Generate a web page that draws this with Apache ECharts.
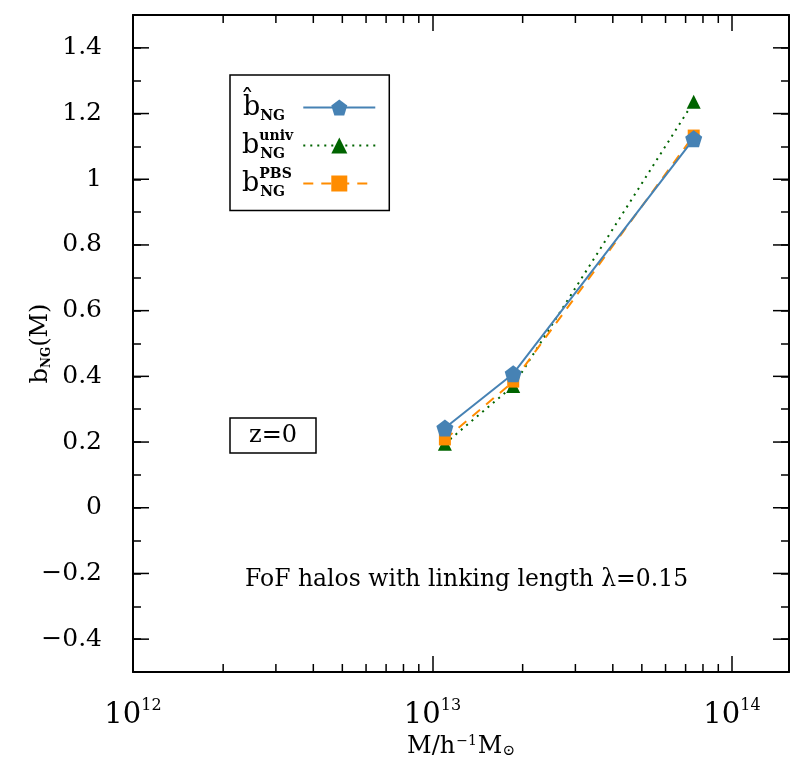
<!DOCTYPE html>
<html>
<head>
<meta charset="utf-8">
<script src="https://cdn.jsdelivr.net/npm/echarts@6/dist/echarts.min.js"></script>
<style>
    html, body { margin: 0; padding: 0; background: #fff; }
    #main { width: 804px; height: 767px; }
</style>
</head>
<body>
<div id="main"></div>
<script>
    // halo mass bins (h^-1 Msun)
    var mass = [1.10e13, 1.86e13, 7.45e13];
    // measured and predicted non-gaussian bias
    var bHat = [0.243, 0.408, 1.123];
    var bUniv = [0.195, 0.371, 1.236];
    var bPBS = [0.208, 0.384, 1.133];

    var yMajorTicks = [-0.4, -0.2, 0, 0.2, 0.4, 0.6, 0.8, 1.0, 1.2, 1.4];
    var xMinorTicks = [2e12, 3e12, 4e12, 5e12, 6e12, 7e12, 8e12, 9e12,
                       2e13, 3e13, 4e13, 5e13, 6e13, 7e13, 8e13, 9e13];

    var font = 'DejaVu Serif';
    var black = '#000';

    function pairs(xs, ys) {
        return xs.map(function (x, i) { return [x, ys[i]]; });
    }

    var myChart = echarts.init(document.getElementById('main'));

    var xAxisBase = {
        type: 'log',
        logBase: 10,
        min: 1e12,
        max: 1.55e14,
        axisLine: { onZero: false, lineStyle: { color: black, width: 2 } },
        axisTick: { inside: true, length: 16, lineStyle: { color: black, width: 1.5 } },
        splitLine: { show: false }
    };
    var yAxisBase = {
        type: 'value',
        min: -0.5,
        max: 1.5,
        interval: 0.1,
        axisLine: { show: true, onZero: false, lineStyle: { color: black, width: 2 } },
        axisTick: { show: true, inside: true, length: 8, lineStyle: { color: black, width: 1.5 } },
        splitLine: { show: false }
    };

    option = {
        animation: false,
        backgroundColor: '#fff',
        grid: { left: 133, right: 15, top: 15, bottom: 95 },
        title: [{
            text: 'z=0',
            left: 230, top: 418,
            padding: [6, 19, 5, 19],
            borderColor: black, borderWidth: 1.5,
            textStyle: { fontFamily: font, fontSize: 24, fontWeight: 'normal', color: black }
        }, {
            text: 'FoF halos with linking length λ=0.15',
            left: 245, top: 568,
            padding: 0,
            textStyle: { fontFamily: font, fontSize: 23.5, fontWeight: 'normal', color: black }
        }],
        legend: {
            data: ['hat', 'univ', 'pbs'],
            orient: 'vertical',
            left: 230, top: 75,
            align: 'right',
            backgroundColor: '#fff',
            borderColor: black, borderWidth: 1.5, borderRadius: 0,
            padding: [19, 13, 11, 12],
            itemGap: 6,
            itemWidth: 72,
            itemHeight: 20,
            formatter: function (name) {
                if (name === 'hat') return '{b|b\u0302}{sub|NG}';
                if (name === 'univ') return '{b|b}{sup|univ}{sub|NG}';
                return '{b|b}{sup|PBS}{sub|NG}';
            },
            textStyle: {
                color: black,
                fontFamily: font,
                rich: {
                    b: { fontFamily: font, fontSize: 27, lineHeight: 32, align: 'left', color: black },
                    sup: { fontFamily: font, fontSize: 14, fontWeight: 'bold', verticalAlign: 'top', align: 'left', width: 1, color: black },
                    sub: { fontFamily: font, fontSize: 14, fontWeight: 'bold', verticalAlign: 'bottom', align: 'left', width: 38, color: black }
                }
            }
        },
        xAxis: [Object.assign({}, xAxisBase, {
            position: 'bottom',
            name: '{n|M/h}{sup|−1}{n|M}{sub|⊙}',
            nameLocation: 'middle',
            nameGap: 60,
            nameTextStyle: {
                rich: {
                    n: { fontFamily: font, fontSize: 24, color: black },
                    sup: { fontFamily: font, fontSize: 14, verticalAlign: 'top', color: black, padding: [0, 1, 0, 1] },
                    sub: { fontFamily: font, fontSize: 15, verticalAlign: 'bottom', color: black }
                }
            },
            axisLabel: {
                margin: 26,
                showMaxLabel: false,
                formatter: function (v) {
                    return '{b|10}{s|' + Math.round(Math.log10(v)) + '}';
                },
                rich: {
                    b: { fontFamily: font, fontSize: 29, lineHeight: 34, color: black },
                    s: { fontFamily: font, fontSize: 16, verticalAlign: 'top', color: black }
                }
            }
        }), Object.assign({}, xAxisBase, {
            position: 'top',
            axisLabel: { show: false }
        })],
        yAxis: [Object.assign({}, yAxisBase, {
            position: 'left',
            name: '{b|b}{sub|NG}{b|(M)}',
            nameLocation: 'middle',
            nameGap: 80,
            nameMoveOverlap: false,
            nameTextStyle: {
                rich: {
                    b: { fontFamily: font, fontSize: 24, color: black },
                    sub: { fontFamily: font, fontSize: 12, fontWeight: 'bold', verticalAlign: 'bottom', color: black }
                }
            },
            axisLabel: {
                margin: 31,
                fontFamily: font,
                fontSize: 25,
                color: black,
                formatter: function (v) {
                    var r = Math.round(v * 10);
                    if (r % 2 !== 0) return '';
                    return String(r / 10).replace('-', '\u2212');
                }
            }
        }), Object.assign({}, yAxisBase, {
            position: 'right',
            axisLabel: { show: false }
        })],
        tooltip: { show: false },
        series: [{
            name: 'hat',
            type: 'line',
            z: 5,
            data: pairs(mass, bHat),
            symbol: 'path://M0,-10 L9.51,-3.09 L5.88,8.09 L-5.88,8.09 L-9.51,-3.09 Z',
            symbolSize: 17,
            itemStyle: { color: '#4682B4' },
            lineStyle: { color: '#4682B4', width: 2, type: 'solid' }
        }, {
            name: 'univ',
            type: 'line',
            z: 3,
            data: pairs(mass, bUniv),
            symbol: 'triangle',
            symbolSize: 14,
            itemStyle: { color: '#006400' },
            lineStyle: { color: '#006400', width: 2, type: [2, 5] }
        }, {
            name: 'pbs',
            type: 'line',
            z: 4,
            data: pairs(mass, bPBS),
            symbol: 'rect',
            symbolSize: 12,
            itemStyle: { color: '#FF8C00' },
            lineStyle: { color: '#FF8C00', width: 2, type: [10, 8] }
        }, {
            // minor ticks of the log axis, bottom and top
            name: 'xminor',
            type: 'custom',
            silent: true,
            z: 10,
            data: xMinorTicks.map(function (v) { return [v, 0]; }),
            renderItem: function (params, api) {
                var cs = params.coordSys;
                var x = api.coord([api.value(0), 0])[0];
                var st = { stroke: black, lineWidth: 1.5 };
                return {
                    type: 'group',
                    children: [
                        { type: 'line', shape: { x1: x, y1: cs.y + cs.height, x2: x, y2: cs.y + cs.height - 8 }, style: st },
                        { type: 'line', shape: { x1: x, y1: cs.y, x2: x, y2: cs.y + 8 }, style: st }
                    ]
                };
            }
        }, {
            // longer major ticks on left and right
            name: 'ymajor',
            type: 'custom',
            silent: true,
            z: 10,
            data: yMajorTicks.map(function (v) { return [1e13, v]; }),
            renderItem: function (params, api) {
                var cs = params.coordSys;
                var y = api.coord([api.value(0), api.value(1)])[1];
                var st = { stroke: black, lineWidth: 1.5 };
                return {
                    type: 'group',
                    children: [
                        { type: 'line', shape: { x1: cs.x, y1: y, x2: cs.x + 16, y2: y }, style: st },
                        { type: 'line', shape: { x1: cs.x + cs.width, y1: y, x2: cs.x + cs.width - 16, y2: y }, style: st }
                    ]
                };
            }
        }]
    };

    myChart.setOption(option);
</script>
</body>
</html>
